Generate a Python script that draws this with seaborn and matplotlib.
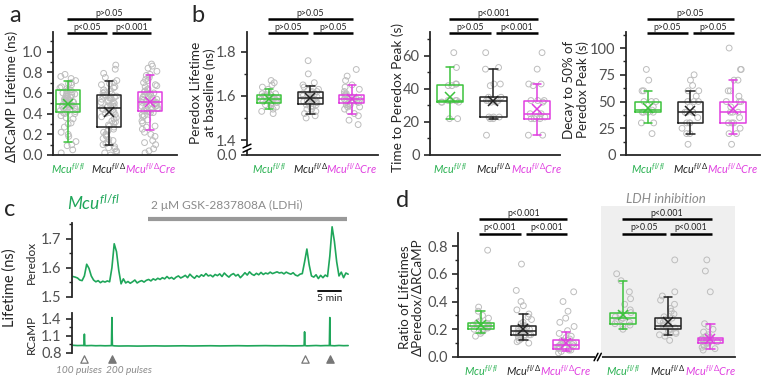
import numpy as np
import pandas as pd
import matplotlib
matplotlib.use('Agg')
import matplotlib.pyplot as plt
import seaborn as sns

# ---------------- data ----------------
genotypes = [r'$Mcu^{fl/fl}$', r'$Mcu^{fl/\Delta}$', r'$Mcu^{fl/\Delta}Cre$']

# a : delta RCaMP lifetime (ns)
a_green = [0.02, 0.05, 0.09, 0.10, 0.13, 0.18, 0.20, 0.22, 0.27, 0.30, 0.31, 0.35, 0.36, 0.38,
           0.40, 0.40, 0.41, 0.42, 0.42, 0.43, 0.44, 0.44, 0.45, 0.46, 0.46, 0.47, 0.47, 0.48,
           0.48, 0.49, 0.49, 0.49, 0.50, 0.50, 0.51, 0.51, 0.52, 0.53, 0.53, 0.54, 0.55, 0.55,
           0.56, 0.57, 0.57, 0.58, 0.59, 0.59, 0.60, 0.61, 0.61, 0.62, 0.63, 0.63, 0.64, 0.65,
           0.66, 0.68, 0.69, 0.70, 0.72, 0.74, 0.76, 0.78]
a_black = [0.00, 0.02, 0.03, 0.04, 0.06, 0.07, 0.08, 0.10, 0.11, 0.12, 0.14, 0.15, 0.16, 0.18,
           0.19, 0.20, 0.22, 0.23, 0.24, 0.25, 0.27, 0.28, 0.29, 0.31, 0.32, 0.33, 0.35, 0.36,
           0.37, 0.39, 0.40, 0.41, 0.42, 0.43, 0.44, 0.45, 0.45, 0.46, 0.47, 0.47, 0.48, 0.49,
           0.50, 0.51, 0.51, 0.52, 0.53, 0.54, 0.55, 0.55, 0.56, 0.57, 0.57, 0.58, 0.59, 0.60,
           0.61, 0.62, 0.63, 0.65, 0.66, 0.68, 0.69, 0.70, 0.72, 0.75, 0.79, 0.83, 0.87]
a_mag = [0.02, 0.04, 0.06, 0.10, 0.12, 0.14, 0.18, 0.20, 0.22, 0.25, 0.27, 0.28, 0.31, 0.33,
         0.34, 0.37, 0.38, 0.39, 0.41, 0.41, 0.42, 0.43, 0.43, 0.44, 0.45, 0.45, 0.46, 0.47,
         0.47, 0.48, 0.49, 0.49, 0.50, 0.50, 0.51, 0.51, 0.52, 0.52, 0.53, 0.54, 0.54, 0.55,
         0.56, 0.56, 0.57, 0.58, 0.58, 0.59, 0.60, 0.60, 0.61, 0.62, 0.63, 0.64, 0.66, 0.67,
         0.68, 0.70, 0.72, 0.73, 0.75, 0.77, 0.78, 0.81, 0.84, 0.86, 0.88]
a_q1 = [0.42, 0.27, 0.43]
a_med = [0.49, 0.45, 0.51]
a_q3 = [0.63, 0.58, 0.61]
a_lo = [0.13, 0.10, 0.24]
a_hi = [0.72, 0.72, 0.77]
a_mean = [0.49, 0.42, 0.51]

# b1 : peredox lifetime at baseline (ns)
b1_green = [1.52, 1.53, 1.54, 1.55, 1.56, 1.56, 1.565, 1.57, 1.57, 1.575, 1.57, 1.58, 1.58,
            1.58, 1.585, 1.59, 1.59, 1.59, 1.595, 1.60, 1.60, 1.60, 1.605, 1.61, 1.61, 1.62,
            1.63, 1.64, 1.65, 1.66, 1.67]
b1_black = [1.50, 1.51, 1.52, 1.53, 1.54, 1.54, 1.55, 1.555, 1.56, 1.56, 1.565, 1.57, 1.57,
            1.575, 1.58, 1.58, 1.585, 1.59, 1.59, 1.595, 1.60, 1.60, 1.605, 1.61, 1.61, 1.615,
            1.62, 1.62, 1.625, 1.63, 1.64, 1.65, 1.66, 1.70, 1.76]
b1_mag = [1.47, 1.49, 1.51, 1.52, 1.53, 1.54, 1.55, 1.55, 1.56, 1.56, 1.565, 1.57, 1.57,
          1.575, 1.58, 1.58, 1.58, 1.585, 1.59, 1.59, 1.59, 1.595, 1.60, 1.60, 1.605, 1.61,
          1.61, 1.62, 1.63, 1.64, 1.65, 1.67, 1.69, 1.72]
b1_q1 = [1.57, 1.565, 1.57]
b1_med = [1.585, 1.59, 1.585]
b1_q3 = [1.605, 1.62, 1.605]
b1_lo = [1.54, 1.52, 1.52]
b1_hi = [1.63, 1.645, 1.65]
b1_mean = [1.585, 1.59, 1.585]

# b2 : time to peredox peak (s)
b2_green = [22, 22, 32, 32, 32, 33, 33, 33, 33, 42, 42, 43, 43, 53, 62]
b2_black = [12, 22, 22, 23, 23, 23, 32, 32, 33, 33, 33, 33, 35, 35, 42, 43, 43, 52, 53, 62]
b2_mag = [12, 12, 22, 22, 22, 23, 23, 23, 25, 25, 32, 33, 33, 33, 42, 43, 43, 52, 62]
b2_q1 = [32, 23, 22]
b2_med = [33, 33, 25]
b2_q3 = [42.5, 35, 33]
b2_lo = [22, 22, 12]
b2_hi = [53, 52, 43]
b2_mean = [35, 33, 28]

# b3 : decay to 50 % of peredox peak (s)
b3_green = [20, 30, 30, 40, 40, 40, 40, 42, 45, 50, 50, 50, 60, 60, 70, 80]
b3_black = [10, 20, 20, 25, 30, 30, 30, 35, 40, 40, 40, 40, 45, 50, 50, 50, 55, 60, 60, 65, 70, 75]
b3_mag = [10, 20, 20, 25, 30, 30, 30, 35, 40, 40, 40, 45, 50, 50, 50, 55, 60, 60, 70, 70, 80, 80, 100]
b3_q1 = [40, 30, 30]
b3_med = [42, 40, 40]
b3_q3 = [50, 50, 50]
b3_lo = [30, 20, 20]
b3_hi = [60, 60, 70]
b3_mean = [44, 41, 43]

# c : example traces (time in min, sampled every 0.5 min)
sample_step = 0.5
peredox = [1.570, 1.568, 1.565, 1.558, 1.556, 1.572, 1.612, 1.598, 1.572, 1.558,
           1.552, 1.556, 1.549, 1.554, 1.551, 1.555, 1.552, 1.600, 1.682, 1.655,
           1.590, 1.545, 1.562, 1.548, 1.553, 1.547, 1.552, 1.558, 1.548, 1.553,
           1.556, 1.551, 1.557, 1.560, 1.555, 1.562, 1.558, 1.564, 1.560, 1.566,
           1.562, 1.570, 1.563, 1.567, 1.561, 1.568, 1.572, 1.565, 1.569, 1.574,
           1.566, 1.578, 1.570, 1.564, 1.573, 1.568, 1.576, 1.571, 1.580, 1.572,
           1.575, 1.569, 1.577, 1.573, 1.579, 1.570, 1.582, 1.574, 1.568, 1.576,
           1.580, 1.572, 1.577, 1.566, 1.574, 1.583, 1.575, 1.586, 1.578, 1.574,
           1.581, 1.576, 1.584, 1.577, 1.582, 1.579, 1.585, 1.580, 1.583, 1.586,
           1.582, 1.584, 1.579, 1.585, 1.581, 1.578, 1.583, 1.575, 1.572, 1.578,
           1.580, 1.620, 1.664, 1.610, 1.572, 1.568, 1.576, 1.563, 1.574, 1.566,
           1.575, 1.570, 1.640, 1.740, 1.690, 1.620, 1.572, 1.585, 1.566, 1.582,
           1.578]
rc_time = [0, 1, 2, 2.4, 2.5, 2.6, 3, 4, 5, 6, 7, 8, 8.4, 8.5, 8.6, 9, 10, 12, 14, 16,
           18, 20, 22, 24, 26, 28, 30, 32, 34, 36, 38, 40, 42, 44, 46, 48, 50, 50.4, 50.5, 50.6,
           51, 52, 53, 54, 55, 55.9, 56.0, 56.1, 57, 58, 59, 60]
rcamp = [0.935, 0.93, 0.932, 0.93, 1.13, 0.93, 0.928, 0.931, 0.927, 0.929,
         0.926, 0.928, 0.93, 1.42, 0.93, 0.925, 0.922, 0.924, 0.921, 0.923,
         0.925, 0.922, 0.924, 0.926, 0.923, 0.925, 0.927, 0.924, 0.926, 0.928,
         0.925, 0.927, 0.929, 0.926, 0.928, 0.925, 0.927, 0.93, 1.17, 0.93,
         0.925, 0.928, 0.931, 0.927, 0.93, 0.93, 1.42, 0.93, 0.926, 0.932,
         0.928, 0.93]
stim_time = [2.5, 8.5, 50.5, 56.0]
stim_200 = [False, True, False, True]
ldhi_on, ldhi_off = 16.3, 59.8

# d : ratio of lifetimes, control then LDH inhibition
d_groups = [
    [0.15, 0.17, 0.18, 0.19, 0.20, 0.20, 0.21, 0.21, 0.22, 0.22, 0.23, 0.23, 0.24, 0.24, 0.25,
     0.26, 0.28, 0.30, 0.33, 0.36, 0.77],
    [0.10, 0.11, 0.12, 0.13, 0.14, 0.15, 0.15, 0.16, 0.16, 0.16, 0.17, 0.17, 0.18, 0.18, 0.18,
     0.19, 0.19, 0.20, 0.20, 0.21, 0.21, 0.22, 0.22, 0.23, 0.24, 0.25, 0.27, 0.29, 0.31, 0.34,
     0.37, 0.40, 0.48, 0.67],
    [0.03, 0.04, 0.05, 0.05, 0.06, 0.06, 0.07, 0.07, 0.07, 0.08, 0.08, 0.09, 0.09, 0.09, 0.10,
     0.10, 0.11, 0.11, 0.12, 0.12, 0.13, 0.14, 0.15, 0.17, 0.19, 0.22, 0.25, 0.28, 0.33, 0.40,
     0.47],
    [0.20, 0.22, 0.23, 0.24, 0.25, 0.26, 0.27, 0.28, 0.28, 0.29, 0.30, 0.31, 0.32, 0.34, 0.38,
     0.42, 0.47, 0.55, 0.60],
    [0.12, 0.15, 0.16, 0.17, 0.18, 0.19, 0.20, 0.20, 0.21, 0.21, 0.22, 0.22, 0.23, 0.24, 0.25,
     0.26, 0.27, 0.28, 0.29, 0.31, 0.33, 0.35, 0.38, 0.41, 0.44, 0.47, 0.70],
    [0.05, 0.06, 0.07, 0.08, 0.09, 0.10, 0.10, 0.11, 0.11, 0.12, 0.12, 0.13, 0.13, 0.14, 0.14,
     0.15, 0.16, 0.18, 0.20, 0.22, 0.24, 0.47, 0.62, 0.70],
]
d_q1 = [0.20, 0.16, 0.06, 0.24, 0.20, 0.10]
d_med = [0.225, 0.19, 0.09, 0.28, 0.22, 0.12]
d_q3 = [0.245, 0.22, 0.12, 0.32, 0.28, 0.14]
d_lo = [0.17, 0.12, 0.04, 0.20, 0.16, 0.06]
d_hi = [0.33, 0.31, 0.18, 0.55, 0.43, 0.24]
d_mean = [0.23, 0.20, 0.10, 0.30, 0.25, 0.13]

# ---------------- style ----------------
sns.set_style('ticks')
plt.rcParams['font.family'] = ['Lato', 'DejaVu Sans']
plt.rcParams['mathtext.fontset'] = 'custom'
plt.rcParams['mathtext.it'] = 'Lato:italic'
plt.rcParams['mathtext.rm'] = 'Lato'
plt.rcParams['axes.linewidth'] = 1.3
np.random.seed(7)

GREEN = '#3cc23c'
GREEN_T = '#1fa65a'
GREEN_L = '#27b04f'
BLACK = '#222222'
MAG = '#e03ee0'
PTS = '#bdbdbd'
TICK = '#505050'
cols3 = [GREEN, BLACK, MAG]
lab_cols3 = [GREEN_L, BLACK, MAG]

W, H = 762, 377
fig = plt.figure(figsize=(W / 100, H / 100), dpi=100)


def add_ax(l, r, t, b):
    return fig.add_axes([l / W, 1 - b / H, (r - l) / W, (b - t) / H])


def ftext(x, y, s, **kw):
    fig.text(x / W, 1 - y / H, s, **kw)


def box_panel(ax, groups, q1, med, q3, lo, hi, mean, pos, cols, labcols, labels):
    df = pd.DataFrame({'pos': np.repeat(pos, [len(g) for g in groups]),
                       'val': np.concatenate(groups)})
    sns.stripplot(data=df, x='pos', y='val', native_scale=True, jitter=0.2, size=4.2,
                  facecolor='none', edgecolor=PTS, linewidth=0.7, ax=ax, zorder=1)
    for i in range(len(pos)):
        c = cols[i]
        st = [dict(med=med[i], q1=q1[i], q3=q3[i], whislo=lo[i], whishi=hi[i],
                   mean=mean[i], fliers=[])]
        ax.bxp(st, positions=[pos[i]], widths=0.6, showmeans=True, showfliers=False,
               manage_ticks=False, capwidths=0.2, zorder=3,
               boxprops=dict(color=c, lw=1.1), medianprops=dict(color=c, lw=1.1),
               whiskerprops=dict(color=c, lw=1.1), capprops=dict(color=c, lw=1.1),
               meanprops=dict(marker='x', markeredgecolor=c, markersize=7,
                              markeredgewidth=1.1))
    ax.set_xlabel('')
    ax.set_ylabel('')
    ax.set_xticks(pos)
    ax.set_xticklabels(labels, fontsize=7.8)
    for tl, c in zip(ax.get_xticklabels(), labcols):
        tl.set_color(c)
    ax.tick_params(axis='x', length=0, pad=5)
    ax.tick_params(axis='y', which='major', length=4, width=1.2, labelsize=10.5,
                   labelcolor=TICK)
    ax.tick_params(axis='y', which='minor', length=2.5, width=1)
    sns.despine(ax=ax)


def sig_bars(ax, t, b, bars):
    tr = ax.get_xaxis_transform()
    for x0, x1, ypx, txt in bars:
        yf = (b - ypx) / (b - t)
        ax.plot([x0, x1], [yf, yf], transform=tr, color='k', lw=1.8, clip_on=False,
                solid_capstyle='butt')
        ax.text((x0 + x1) / 2, yf + 1.5 / (b - t), txt, transform=tr, ha='center',
                va='bottom', fontsize=6.3, color='#222222')


def three_bars(texts, ytop, ylow):
    return [(-0.03, 2.03, ytop, texts[0]), (-0.03, 0.94, ylow, texts[1]),
            (1.06, 2.03, ylow, texts[2])]


pos3 = [0, 1, 2]

# ---------------- panel a ----------------
ax = add_ax(53, 177, 32, 155)
box_panel(ax, [a_green, a_black, a_mag], a_q1, a_med, a_q3, a_lo, a_hi, a_mean,
          pos3, cols3, lab_cols3, genotypes)
ax.set_xlim(-0.37, 2.66)
ax.set_ylim(0, 1.19)
ax.set_yticks([0, 0.2, 0.4, 0.6, 0.8, 1.0])
ax.set_yticks(np.arange(1, 12, 2) / 10, minor=True)
ax.set_yticklabels(['0.0', '0.2', '0.4', '0.6', '0.8', '1.0'])
sig_bars(ax, 32, 155, three_bars(['p>0.05', 'p<0.05', 'p<0.001'], 19, 33))
ftext(12, 96, 'ΔRCaMP Lifetime (ns)', rotation=90, ha='center', va='center', fontsize=9.8)

# ---------------- panel b1 ----------------
ax = add_ax(247, 378, 32, 155)
box_panel(ax, [b1_green, b1_black, b1_mag], b1_q1, b1_med, b1_q3, b1_lo, b1_hi, b1_mean,
          pos3, cols3, lab_cols3, genotypes)
ax.set_xlim(-0.53, 2.63)
ax.set_ylim(1.332, 1.89)
ax.set_yticks([1.332, 1.4, 1.6, 1.8])
ax.set_yticklabels(['0.0', '1.4', '1.6', '1.8'])
ax.set_yticks([1.5, 1.7], minor=True)
yb = (1.37 - 1.332) / (1.89 - 1.332)
ax.plot([-0.012, 0.012], [yb - 0.012, yb - 0.012], transform=ax.transAxes, color='white',
        lw=3, clip_on=False, zorder=5)
for dy in (-0.03, 0.005):
    ax.plot([-0.03, 0.03], [yb + dy - 0.015, yb + dy + 0.015], transform=ax.transAxes,
            color='k', lw=1.1, clip_on=False, zorder=6)
sig_bars(ax, 32, 155, three_bars(['p>0.05', 'p>0.05', 'p>0.05'], 19, 33))
ftext(203, 93, 'Peredox Lifetime\nat baseline (ns)', rotation=90, ha='center', va='center',
      fontsize=9.8, linespacing=1.1)

# ---------------- panel b2 ----------------
ax = add_ax(430, 560, 32, 155)
box_panel(ax, [b2_green, b2_black, b2_mag], b2_q1, b2_med, b2_q3, b2_lo, b2_hi, b2_mean,
          pos3, cols3, lab_cols3, genotypes)
ax.set_xlim(-0.46, 2.53)
ax.set_ylim(0, 74.5)
ax.set_yticks([0, 20, 40, 60])
ax.set_yticks([10, 30, 50, 70], minor=True)
sig_bars(ax, 32, 155, three_bars(['p<0.001', 'p>0.05', 'p<0.001'], 19, 33))
ftext(398, 97, 'Time to Peredox Peak (s)', rotation=90, ha='center', va='center',
      fontsize=9.8)

# ---------------- panel b3 ----------------
ax = add_ax(626, 760, 32, 155)
box_panel(ax, [b3_green, b3_black, b3_mag], b3_q1, b3_med, b3_q3, b3_lo, b3_hi, b3_mean,
          pos3, cols3, lab_cols3, genotypes)
ax.set_xlim(-0.52, 2.64)
ax.set_ylim(0, 115)
ax.set_yticks([0, 25, 50, 75, 100])
ax.set_yticks([12.5, 37.5, 62.5, 87.5, 112.5], minor=True)
sig_bars(ax, 32, 155, three_bars(['p>0.05', 'p>0.05', 'p>0.05'], 19, 33))
ftext(576, 90, 'Decay to 50% of\nPeredox Peak (s)', rotation=90, ha='center', va='center',
      fontsize=9.6, linespacing=1.05)

# ---------------- panel c ----------------
time_p = np.arange(len(peredox)) * sample_step
axp = add_ax(72, 350, 223, 297)
sns.lineplot(x=time_p, y=peredox, ax=axp, color=GREEN_T, lw=1.2, estimator=None)
axp.set_xlim(-0.2, 60.4)
axp.set_ylim(1.5, 1.753)
axp.set_yticks([1.5, 1.6, 1.7])
axp.set_yticks([1.55, 1.65, 1.75], minor=True)
axp.set_xticks([])
for s in ('top', 'right', 'bottom'):
    axp.spines[s].set_visible(False)
axp.tick_params(axis='y', which='major', length=4, width=1.2, labelsize=10.5, labelcolor=TICK)
axp.tick_params(axis='y', which='minor', length=2.5, width=1)
# drug bar and scale bar
axp.plot([ldhi_on, ldhi_off], [1.767, 1.767], color='#999999', lw=3, clip_on=False,
         solid_capstyle='butt')
axp.text(ldhi_on + 0.8, 1.795, '2 μM GSK-2837808A (LDHi)', color='#8a8a8a', fontsize=8.6,
         ha='left', va='bottom')
axp.plot([53.5, 58.5], [1.52, 1.52], color='k', lw=1.3, clip_on=False)
axp.text(56, 1.51, '5 min', fontsize=7.5, ha='center', va='top')

axr = add_ax(72, 350, 313, 353)
sns.lineplot(x=rc_time, y=rcamp, ax=axr, color=GREEN_T, lw=1.2, estimator=None)
axr.set_xlim(-0.2, 60.4)
axr.set_ylim(0.8, 1.5)
axr.set_yticks([0.8, 1.1, 1.4])
axr.set_yticklabels(['0.8', '1.1', '1.4'])
axr.set_yticks([0.95, 1.25], minor=True)
axr.set_xticks([])
for s in ('top', 'right', 'bottom'):
    axr.spines[s].set_visible(False)
axr.tick_params(axis='y', which='major', length=4, width=1.2, labelsize=10.5, labelcolor=TICK)
axr.tick_params(axis='y', which='minor', length=2.5, width=1)
for tt, big in zip(stim_time, stim_200):
    axr.scatter([tt], [0.69], marker='^', s=28, clip_on=False, zorder=5,
                facecolor='#777777' if big else 'white', edgecolor='#777777', linewidth=0.9)
axr.text(6.4, 0.5, '100 pulses', fontsize=7.3, style='italic', color='#8a8a8a',
         ha='right', va='center')
axr.text(7.3, 0.5, '200 pulses', fontsize=7.3, style='italic', color='#8a8a8a',
         ha='left', va='center')

ftext(67, 203, r'$Mcu^{fl/fl}$', color=GREEN_T, fontsize=12.5, ha='left', va='center')
ftext(10, 288, 'Lifetime (ns)', rotation=90, ha='center', va='center', fontsize=10.5)
ftext(31, 262, 'Peredox', rotation=90, ha='center', va='center', fontsize=8.5)
ftext(31, 334, 'RCaMP', rotation=90, ha='center', va='center', fontsize=8.5)

# ---------------- panel d ----------------
pos6 = [0, 1, 2, 3.35, 4.4, 5.4]
ax = add_ax(458, 735, 233, 357)
ax.axvspan(2.84, 5.98, ymin=0, ymax=1.218, color='#efefef', zorder=0, clip_on=False, lw=0)
box_panel(ax, d_groups, d_q1, d_med, d_q3, d_lo, d_hi, d_mean, pos6, cols3 * 2,
          lab_cols3 * 2, genotypes * 2)
ax.set_xlim(-0.535, 5.98)
ax.set_ylim(0, 0.894)
ax.set_yticks([0, 0.2, 0.4, 0.6, 0.8])
ax.set_yticklabels(['0.0', '0.2', '0.4', '0.6', '0.8'])
ax.set_yticks([0.1, 0.3, 0.5, 0.7], minor=True)
xb = (2.77 + 0.535) / (5.98 + 0.535)
ax.plot([xb - 0.006, xb + 0.006], [0, 0], transform=ax.transAxes, color='white', lw=3,
        clip_on=False, zorder=5)
for dx in (-0.009, 0.003):
    ax.plot([xb + dx - 0.007, xb + dx + 0.007], [-0.03, 0.03], transform=ax.transAxes,
            color='k', lw=1.1, clip_on=False, zorder=6)
sig_bars(ax, 233, 357, three_bars(['p<0.001', 'p<0.001', 'p<0.001'], 219, 234)
         + [(3.32, 5.43, 219, 'p<0.001'), (3.32, 4.35, 234, 'p>0.05'),
            (4.45, 5.43, 234, 'p<0.001')])
ftext(666, 199, 'LDH inhibition', color='#8c8c8c', fontsize=9.5, style='italic',
      ha='center', va='center')
ftext(411, 297, 'Ratio of Lifetimes\nΔPeredox/ΔRCaMP', rotation=90, ha='center',
      va='center', fontsize=9.6, linespacing=1.1)

# ---------------- panel letters ----------------
for lx, ly, letter in [(15, 16, 'a'), (198, 16, 'b'), (10, 210, 'c'), (403, 200, 'd')]:
    ftext(lx, ly, letter, fontsize=17, ha='center', va='center')

fig.savefig('out.png', dpi=100)
